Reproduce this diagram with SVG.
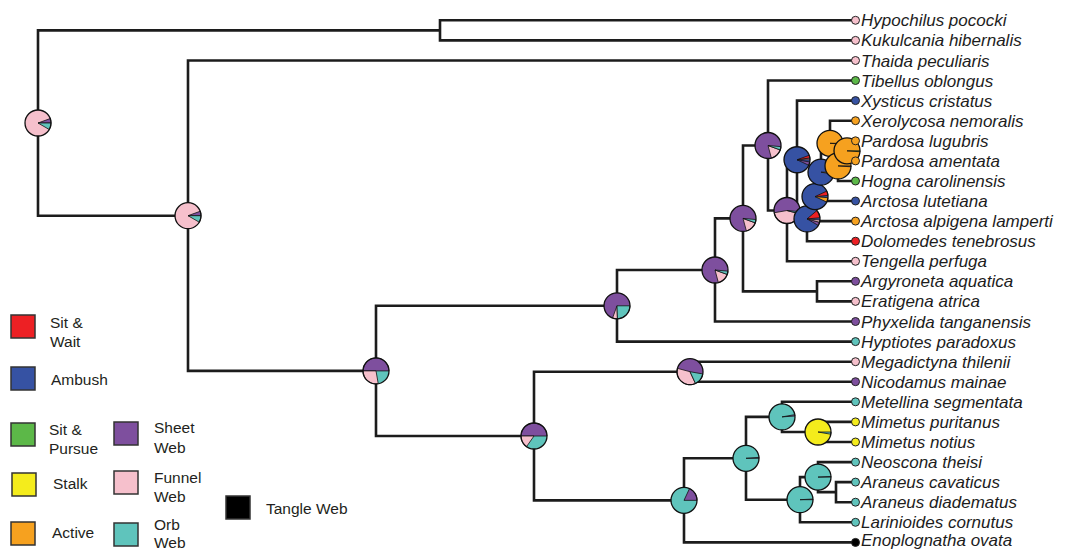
<svg xmlns="http://www.w3.org/2000/svg" width="1071" height="550" viewBox="0 0 1071 550">
<style>
.e{fill:none;stroke:#1c1c1c;stroke-width:2.6;stroke-linecap:square}
.o{fill:none;stroke:#111;stroke-width:1.3}
.s{stroke:#111;stroke-width:0.8}
.tc{stroke:#222;stroke-width:1}
.pu{fill:#7e4f9e}.pk{fill:#f6c0cc}.tl{fill:#5fc4bc}.bl{fill:#3652a3}.rd{fill:#ed2024}.or{fill:#f6a11f}.ye{fill:#f4ec1c}.gr{fill:#5cb848}.bk{fill:#000}
.lbl{font-family:"Liberation Sans",Arial,sans-serif;font-style:italic;font-size:17px;fill:#1d1d1d}
.leg{font-family:"Liberation Sans",Arial,sans-serif;font-size:15.5px;fill:#231f20}
.sq{stroke:#333;stroke-width:1.5}
</style>
<g id="connectors">
<path class="e" d="M38 30.35V215.7M38 30.35H440M38 215.7H188
M440 20.3V40.4M440 20.3H851M440 40.4H851
M188 60.5V370.9M188 60.5H851M188 370.9H376
M376 305.8V436M376 305.8H617M376 436H534
M617 270V341.6M617 270H715M617 341.6H851
M715 218.4V321.5M715 218.4H743M715 321.5H851
M743 145.5V291.35M743 145.5H768M743 291.35H817
M817 281.3V301.4M817 281.3H851M817 301.4H851
M768 80.5V210.5M768 80.5H851M768 210.5H787
M787 159.75V261.3M787 159.75H797M787 261.3H851
M797 100.6V218.9M797 100.6H851M797 218.9H807
M807 196.6V241.2M807 196.6H815M807 241.2H851
M815 172.15V221.1M815 172.15H821M815 221.1H851
M821 143.3V201M821 143.3H830M821 201H851
M830 120.7V165.9M830 120.7H851M830 165.9H838
M838 150.85V181M838 150.85H847M838 181H851
M847 140.8V160.9M847 140.8H851M847 160.9H851
M534 371.7V500.35M534 371.7H690M534 500.35H684
M690 361.7V381.7M690 361.7H851M690 381.7H851
M684 458.3V542.4M684 458.3H746M684 542.4H851
M746 416.9V499.7M746 416.9H782M746 499.7H800
M782 401.8V432M782 401.8H851M782 432H818
M818 421.9V442M818 421.9H851M818 442H851
M800 477.1V522.3M800 477.1H818M800 522.3H851
M818 462.1V492.15M818 462.1H851M818 492.15H836
M836 482.1V502.2M836 482.1H851M836 502.2H851"/>
</g>
<g id="node-root" transform="translate(38,123)"><circle class="pk" r="13"/><path class="pu s" d="M0 0L13 0A13 13 0 0 0 12.22-4.45Z"/><path class="tl s" d="M0 0L11.26 6.5A13 13 0 0 0 13 0Z"/><circle class="o" r="13"/></g>
<g id="node-188" transform="translate(188,215.7)"><circle class="pk" r="13"/><path class="pu s" d="M0 0L13 0A13 13 0 0 0 12.22-4.45Z"/><path class="tl s" d="M0 0L11.26 6.5A13 13 0 0 0 13 0Z"/><circle class="o" r="13"/></g>
<g id="node-376" transform="translate(376,370.9)"><circle class="tl" r="13"/><path class="pu s" d="M0 0L13 0A13 13 0 0 0-13 0Z"/><path class="pk s" d="M0 0L-13 0A13 13 0 0 0 2.26 12.8Z"/><circle class="o" r="13"/></g>
<g id="node-617" transform="translate(617,305.8)"><circle class="pu" r="13"/><path class="pk s" d="M0 0L-4.45 12.22A13 13 0 0 0 0.45 12.99Z"/><path class="tl s" d="M0 0L0.45 12.99A13 13 0 0 0 13 0Z"/><circle class="o" r="13"/></g>
<g id="node-715" transform="translate(715,270)"><circle class="pu" r="13"/><path class="pk s" d="M0 0L3.36 12.56A13 13 0 0 0 12.22 4.45Z"/><path class="tl s" d="M0 0L12.22 4.45A13 13 0 0 0 12.95 1.13Z"/><circle class="o" r="13"/></g>
<g id="node-743" transform="translate(743,218.4)"><circle class="pu" r="13"/><path class="pk s" d="M0 0L3.36 12.56A13 13 0 0 0 12.22 4.45Z"/><path class="tl s" d="M0 0L12.22 4.45A13 13 0 0 0 12.95 1.13Z"/><circle class="o" r="13"/></g>
<g id="node-768" transform="translate(768,145.5)"><circle class="pu" r="13"/><path class="pk s" d="M0 0L3.36 12.56A13 13 0 0 0 12.22 4.45Z"/><path class="tl s" d="M0 0L12.22 4.45A13 13 0 0 0 12.95 1.13Z"/><circle class="o" r="13"/></g>
<g id="node-787" transform="translate(787,210.5)"><circle class="pu" r="13"/><path class="pk s" d="M0 0L-12.8 2.26A13 13 0 0 0 12.56 3.36Z"/><path class="tl s" d="M0 0L12.56 3.36A13 13 0 0 0 12.95 1.13Z"/><circle class="o" r="13"/></g>
<g id="node-797" transform="translate(797,159.75)"><circle class="bl" r="13"/><path class="pk s" d="M0 0L13 0A13 13 0 0 0 12.87-1.81Z"/><path class="rd s" d="M0 0L12.87-1.81A13 13 0 0 0 12.22-4.45Z"/><path class="pu s" d="M0 0L11.78 5.5A13 13 0 0 0 12.8 2.26Z"/><circle class="o" r="13"/></g>
<g id="node-807" transform="translate(807,218.9)"><circle class="bl" r="13"/><path class="rd s" d="M0 0L12.95-1.13A13 13 0 0 0 9.96-8.36Z"/><path class="pu s" d="M0 0L11.26 6.5A13 13 0 0 0 12.56 3.36Z"/><path class="pk s" d="M0 0L12.56 3.36A13 13 0 0 0 12.95 1.13Z"/><circle class="o" r="13"/></g>
<g id="node-815" transform="translate(815,196.6)"><circle class="bl" r="13"/><path class="rd s" d="M0 0L12.95-1.13A13 13 0 0 0 11.78-5.5Z"/><path class="or s" d="M0 0L11.78 5.5A13 13 0 0 0 12.95 1.13Z"/><circle class="o" r="13"/></g>
<g id="node-821" transform="translate(821,172.15)"><circle class="bl" r="13"/><path class="or s" d="M0 0L12.8 2.26A13 13 0 0 0 13 0Z"/><circle class="o" r="13"/></g>
<g id="node-830" transform="translate(830,143.3)"><circle class="or" r="13"/><path class="bl s" d="M0 0L12.97 0.91A13 13 0 0 0 13 0Z"/><circle class="o" r="13"/></g>
<g id="node-838" transform="translate(838,165.9)"><circle class="or" r="13"/><path class="bl s" d="M0 0L12.97 0.91A13 13 0 0 0 13 0Z"/><circle class="o" r="13"/></g>
<g id="node-847" transform="translate(847,150.85)"><circle class="or" r="13"/><path class="gr s" d="M0 0L12.97 0.91A13 13 0 0 0 13 0Z"/><circle class="o" r="13"/></g>
<g id="node-534" transform="translate(534,436)"><circle class="tl" r="13"/><path class="pu s" d="M0 0L13 0A13 13 0 0 0-13 0Z"/><path class="pk s" d="M0 0L-13 0A13 13 0 0 0-7.46 10.65Z"/><circle class="o" r="13"/></g>
<g id="node-690" transform="translate(690,371.7)"><circle class="pu" r="13"/><path class="pk s" d="M0 0L-12.56-3.36A13 13 0 0 0 5.49 11.78Z"/><path class="tl s" d="M0 0L5.49 11.78A13 13 0 0 0 12.8 2.26Z"/><circle class="o" r="13"/></g>
<g id="node-684" transform="translate(684,500.35)"><circle class="tl" r="13"/><path class="pu s" d="M0 0L13 0A13 13 0 0 0 5.5-11.78Z"/><circle class="o" r="13"/></g>
<g id="node-746" transform="translate(746,458.3)"><circle class="tl" r="13"/><path class="pu s" d="M0 0L13 0A13 13 0 0 0 12.97-0.91Z"/><circle class="o" r="13"/></g>
<g id="node-782" transform="translate(782,416.9)"><circle class="tl" r="13"/><path class="pu s" d="M0 0L12.97-0.91A13 13 0 0 0 12.8-2.26Z"/><circle class="o" r="13"/></g>
<g id="node-818a" transform="translate(818,432)"><circle class="ye" r="13"/><path class="tl s" d="M0 0L12.8 2.26A13 13 0 0 0 13 0Z"/><circle class="o" r="13"/></g>
<g id="node-818b" transform="translate(818,477.1)"><circle class="tl" r="13"/><path class="pu s" d="M0 0L13 0A13 13 0 0 0 12.98-0.68Z"/><circle class="o" r="13"/></g>
<g id="node-800" transform="translate(800,499.7)"><circle class="tl" r="13"/><path class="pu s" d="M0 0L13 0A13 13 0 0 0 12.98-0.68Z"/><circle class="o" r="13"/></g>
<g id="tip-01"><circle class="pk tc" cx="855.5" cy="20.3" r="4"/><text class="lbl" x="861" y="26.3">Hypochilus pococki</text></g>
<g id="tip-02"><circle class="pk tc" cx="855.5" cy="40.4" r="4"/><text class="lbl" x="861" y="46.4">Kukulcania hibernalis</text></g>
<g id="tip-03"><circle class="pk tc" cx="855.5" cy="60.5" r="4"/><text class="lbl" x="861" y="66.5">Thaida peculiaris</text></g>
<g id="tip-04"><circle class="gr tc" cx="855.5" cy="80.5" r="4"/><text class="lbl" x="861" y="86.5">Tibellus oblongus</text></g>
<g id="tip-05"><circle class="bl tc" cx="855.5" cy="100.6" r="4"/><text class="lbl" x="861" y="106.6">Xysticus cristatus</text></g>
<g id="tip-06"><circle class="or tc" cx="855.5" cy="120.7" r="4"/><text class="lbl" x="861" y="126.7">Xerolycosa nemoralis</text></g>
<g id="tip-07"><circle class="or tc" cx="855.5" cy="140.8" r="4"/><text class="lbl" x="861" y="146.8">Pardosa lugubris</text></g>
<g id="tip-08"><circle class="or tc" cx="855.5" cy="160.9" r="4"/><text class="lbl" x="861" y="166.9">Pardosa amentata</text></g>
<g id="tip-09"><circle class="gr tc" cx="855.5" cy="181" r="4"/><text class="lbl" x="861" y="187">Hogna carolinensis</text></g>
<g id="tip-10"><circle class="bl tc" cx="855.5" cy="201" r="4"/><text class="lbl" x="861" y="207">Arctosa lutetiana</text></g>
<g id="tip-11"><circle class="or tc" cx="855.5" cy="221.1" r="4"/><text class="lbl" x="861" y="227.1">Arctosa alpigena lamperti</text></g>
<g id="tip-12"><circle class="rd tc" cx="855.5" cy="241.2" r="4"/><text class="lbl" x="861" y="247.2">Dolomedes tenebrosus</text></g>
<g id="tip-13"><circle class="pk tc" cx="855.5" cy="261.3" r="4"/><text class="lbl" x="861" y="267.3">Tengella perfuga</text></g>
<g id="tip-14"><circle class="pu tc" cx="855.5" cy="281.3" r="4"/><text class="lbl" x="861" y="287.3">Argyroneta aquatica</text></g>
<g id="tip-15"><circle class="pk tc" cx="855.5" cy="301.4" r="4"/><text class="lbl" x="861" y="307.4">Eratigena atrica</text></g>
<g id="tip-16"><circle class="pu tc" cx="855.5" cy="321.5" r="4"/><text class="lbl" x="861" y="327.5">Phyxelida tanganensis</text></g>
<g id="tip-17"><circle class="tl tc" cx="855.5" cy="341.6" r="4"/><text class="lbl" x="861" y="347.6">Hyptiotes paradoxus</text></g>
<g id="tip-18"><circle class="pk tc" cx="855.5" cy="361.7" r="4"/><text class="lbl" x="861" y="367.7">Megadictyna thilenii</text></g>
<g id="tip-19"><circle class="pu tc" cx="855.5" cy="381.7" r="4"/><text class="lbl" x="861" y="387.7">Nicodamus mainae</text></g>
<g id="tip-20"><circle class="tl tc" cx="855.5" cy="401.8" r="4"/><text class="lbl" x="861" y="407.8">Metellina segmentata</text></g>
<g id="tip-21"><circle class="ye tc" cx="855.5" cy="421.9" r="4"/><text class="lbl" x="861" y="427.9">Mimetus puritanus</text></g>
<g id="tip-22"><circle class="ye tc" cx="855.5" cy="442" r="4"/><text class="lbl" x="861" y="448">Mimetus notius</text></g>
<g id="tip-23"><circle class="tl tc" cx="855.5" cy="462.1" r="4"/><text class="lbl" x="861" y="468.1">Neoscona theisi</text></g>
<g id="tip-24"><circle class="tl tc" cx="855.5" cy="482.1" r="4"/><text class="lbl" x="861" y="488.1">Araneus cavaticus</text></g>
<g id="tip-25"><circle class="tl tc" cx="855.5" cy="502.2" r="4"/><text class="lbl" x="861" y="508.2">Araneus diadematus</text></g>
<g id="tip-26"><circle class="tl tc" cx="855.5" cy="522.3" r="4"/><text class="lbl" x="861" y="528.3">Larinioides cornutus</text></g>
<g id="tip-27"><circle class="bk tc" cx="855.5" cy="542.4" r="4"/><text class="lbl" x="861" y="546.2">Enoplognatha ovata</text></g>
<g id="legend">
<rect class="rd sq" x="11" y="315" width="24" height="23"/><text class="leg" x="50" y="328">Sit &amp;</text><text class="leg" x="50" y="347">Wait</text>
<rect class="bl sq" x="11" y="367" width="24" height="23"/><text class="leg" x="51" y="385">Ambush</text>
<rect class="gr sq" x="11" y="423" width="24" height="23"/><text class="leg" x="49" y="435">Sit &amp;</text><text class="leg" x="49" y="454">Pursue</text>
<rect class="ye sq" x="12" y="473" width="24" height="23"/><text class="leg" x="53" y="489">Stalk</text>
<rect class="or sq" x="11" y="522" width="24" height="23"/><text class="leg" x="52" y="538">Active</text>
<rect class="pu sq" x="114" y="422" width="24" height="23"/><text class="leg" x="154" y="433">Sheet</text><text class="leg" x="154" y="453">Web</text>
<rect class="pk sq" x="114" y="471" width="24" height="23"/><text class="leg" x="154" y="483">Funnel</text><text class="leg" x="154" y="502">Web</text>
<rect class="tl sq" x="114" y="523" width="24" height="23"/><text class="leg" x="154" y="530">Orb</text><text class="leg" x="154" y="548">Web</text>
<rect class="bk sq" x="226" y="496" width="24" height="23"/><text class="leg" x="266" y="514">Tangle Web</text>
</g>
</svg>
